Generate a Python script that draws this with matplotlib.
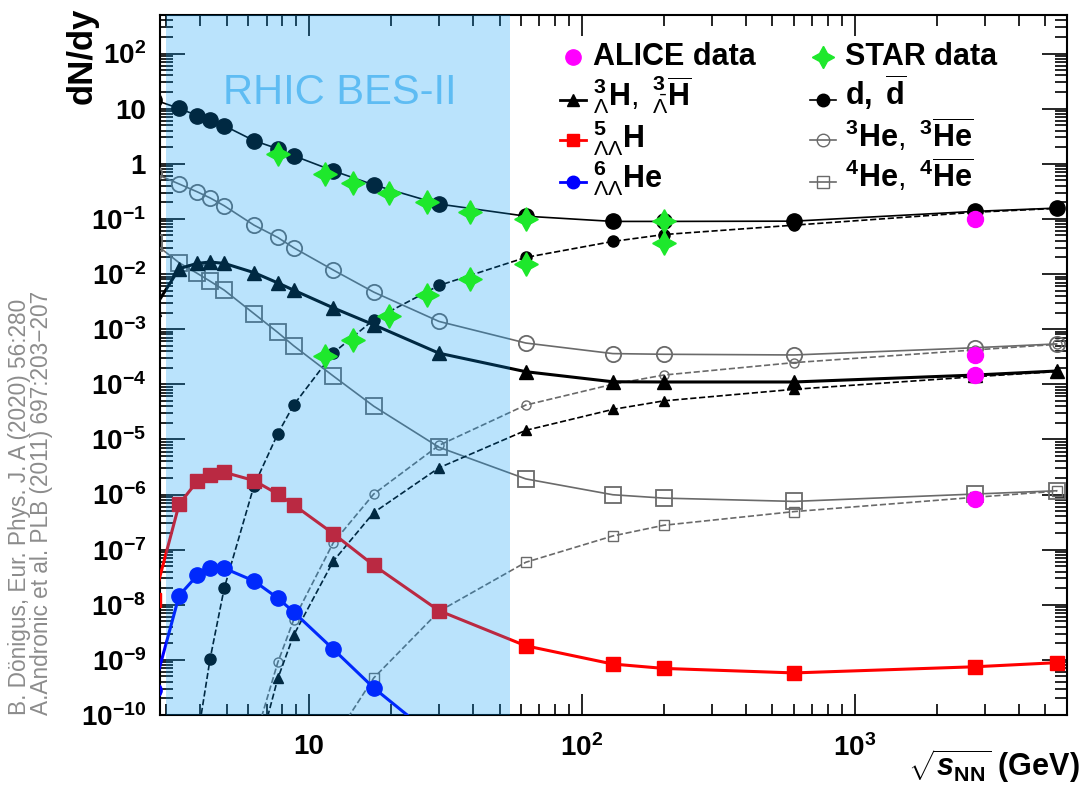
import numpy as np
import matplotlib
matplotlib.use("Agg")
import matplotlib.pyplot as plt
from matplotlib.lines import Line2D
from matplotlib.ticker import FixedLocator, LogLocator, NullFormatter

plt.rcParams["font.family"] = ["Liberation Sans", "DejaVu Sans"]
plt.rcParams["mathtext.fontset"] = "custom"
plt.rcParams["mathtext.rm"] = "Liberation Sans"
plt.rcParams["mathtext.bf"] = "Liberation Sans:bold"
plt.rcParams["mathtext.it"] = "Liberation Sans:italic"
plt.rcParams["mathtext.bfit"] = "Liberation Sans:bold:italic"

nan = np.nan

# thermal model energies (GeV); first one sits just left of the frame
sqrt_s = [2.7, 3.35, 3.9, 4.35, 4.9, 6.3, 7.7, 8.8, 12.3, 17.3, 30.0,
          62.4, 130, 200, 600, 2760, 5500]

d = [14.6, 10.1, 7.5, 6.1, 4.9, 2.63, 1.87, 1.40, 0.745, 0.414, 0.186,
     0.112, 0.090, 0.090, 0.091, 0.137, 0.157]
dbar = [nan, nan, 3.5e-11, 1.05e-9, 2.0e-8, 1.45e-6, 1.27e-5, 4.2e-5, 3.7e-4,
        1.48e-3, 6.2e-3, 0.020, 0.039, 0.052, 0.077, 0.132, 0.155]
he3 = [0.68, 0.43, 0.31, 0.24, 0.173, 0.077, 0.046, 0.030, 0.0118, 4.7e-3,
       1.38e-3, 5.6e-4, 3.6e-4, 3.5e-4, 3.4e-4, 4.6e-4, 5.4e-4]
he3bar = [nan, nan, nan, nan, nan, 3.2e-11, 9.0e-10, 5.3e-9, 1.34e-7, 1.02e-6,
          7.8e-6, 4.2e-5, 1.0e-4, 1.47e-4, 2.47e-4, 4.2e-4, 5.3e-4]
he4 = [0.037, 0.016, 0.0103, 7.4e-3, 5.1e-3, 1.91e-3, 8.7e-4, 5.0e-4, 1.41e-4,
       4.0e-5, 7.2e-6, 1.92e-6, 9.9e-7, 8.6e-7, 7.5e-7, 1.02e-6, 1.17e-6]
he4bar = [nan, nan, nan, nan, nan, nan, nan, nan, 3.5e-11, 4.7e-10, 7.6e-9,
          5.9e-8, 1.77e-7, 2.77e-7, 4.9e-7, 8.9e-7, 1.15e-6]
h3l = [2.3e-3, 0.0125, 0.0156, 0.0165, 0.0156, 0.0106, 6.9e-3, 5.1e-3, 2.43e-3,
       1.2e-3, 3.66e-4, 1.69e-4, 1.11e-4, 1.1e-4, 1.1e-4, 1.47e-4, 1.74e-4]
h3lbar = [nan, nan, nan, nan, nan, 1.1e-11, 4.6e-10, 2.8e-9, 6.2e-8, 4.7e-7,
          3.05e-6, 1.46e-5, 3.5e-5, 5.0e-5, 8.1e-5, 1.37e-4, 1.7e-4]
h5ll = [1.2e-8, 6.7e-7, 1.73e-6, 2.3e-6, 2.53e-6, 1.79e-6, 1.02e-6, 6.5e-7,
        1.95e-7, 5.2e-8, 7.8e-9, 1.8e-9, 8.4e-10, 7.0e-10, 5.8e-10, 7.5e-10, 8.9e-10]
he6ll = [2.9e-10, 1.47e-8, 3.4e-8, 4.6e-8, 4.6e-8, 2.7e-8, 1.32e-8, 7.4e-9,
         1.56e-9, 3.1e-10, 3.4e-11, nan, nan, nan, nan, nan, nan]

star_d_s = [7.7, 11.5, 14.5, 19.6, 27, 39, 62.4, 200]
star_d = [1.52, 0.64, 0.445, 0.29, 0.20, 0.131, 0.099, 0.091]
star_dbar_s = [11.5, 14.5, 19.6, 27, 39, 62.4, 200]
star_dbar = [3.2e-4, 6.4e-4, 1.76e-3, 4.1e-3, 8.2e-3, 0.015, 0.036]

alice_s = [2760, 2760, 2760, 2760]
alice_y = [0.099, 3.4e-4, 1.5e-4, 8.3e-7]

bes2_range = (3.0, 54.4)
y_exponents = list(range(-10, 3))
x_major = [10, 100, 1000]
x_labels = ["10", r"$\mathbf{10^{2}}$", r"$\mathbf{10^{3}}$"]


def ylab(e):
    if e == 0:
        return "1"
    if e == 1:
        return "10"
    return r"$\mathbf{10^{%d}}$" % e


W, H = 1085, 789
fig = plt.figure(figsize=(W / 100, H / 100), dpi=100)
ax = fig.add_axes([160 / W, 1 - 715 / H, 907 / W, 700 / H])
ax.set_xscale("log")
ax.set_yscale("log")
ax.set_xlim(2.85, 6000)
ax.set_ylim(1e-10, 500)

gray = "#6a6a6a"
green = "#1ee82c"
star = (4, 1, 0)

styles = {
    "d": dict(fmt="-o", color="black", lw=1.2, ms=11),
    "dbar": dict(fmt="--o", color="black", lw=1.2, ms=8),
    "he3": dict(fmt="-o", color=gray, lw=1.2, ms=11, mfc="none", mew=1.3),
    "he3bar": dict(fmt="--o", color=gray, lw=1.2, ms=6.5, mfc="none", mew=1.0),
    "he4": dict(fmt="-s", color=gray, lw=1.2, ms=11, mfc="none", mew=1.3),
    "he4bar": dict(fmt="--s", color=gray, lw=1.2, ms=6.5, mfc="none", mew=1.0),
    "h3l": dict(fmt="-^", color="black", lw=2.2, ms=10),
    "h3lbar": dict(fmt="--^", color="black", lw=1.2, ms=7),
    "h5ll": dict(fmt="-s", color="#ff0000", lw=2.2, ms=10),
    "he6ll": dict(fmt="-o", color="#0000ff", lw=2.2, ms=11),
}
series = {"d": d, "dbar": dbar, "he3": he3, "he3bar": he3bar, "he4": he4,
          "he4bar": he4bar, "h3l": h3l, "h3lbar": h3lbar, "h5ll": h5ll,
          "he6ll": he6ll}

# model curves
for key, vals in series.items():
    st = dict(styles[key])
    fmt = st.pop("fmt")
    ax.plot(sqrt_s, vals, fmt, zorder=3, **st)

# BES-II band laid over the curves
ax.axvspan(*bes2_range, facecolor=(0.0, 0.6, 0.97), alpha=0.27, lw=0, zorder=4)
ax.text(13.0, 19.5, "RHIC BES-II", color="#5ebcf3", fontsize=30,
        ha="center", va="center", zorder=6)

# measurements
ax.plot(star_d_s, star_d, ls="none", marker=star, color=green, ms=17, zorder=6)
ax.plot(star_dbar_s, star_dbar, ls="none", marker=star, color=green, ms=17, zorder=6)
ax.plot(alice_s, alice_y, ls="none", marker="o", color="#ff00ff", ms=11.5, zorder=6)

# ROOT-like ticks on all four sides
ax.yaxis.set_major_locator(FixedLocator([10.0 ** e for e in y_exponents]))
ax.set_yticklabels([ylab(e) for e in y_exponents], fontsize=20, fontweight="bold")
ax.yaxis.set_minor_locator(LogLocator(base=10, subs=np.arange(2, 10), numticks=100))
ax.yaxis.set_minor_formatter(NullFormatter())
ax.xaxis.set_major_locator(FixedLocator(x_major))
ax.set_xticklabels(x_labels, fontsize=20, fontweight="bold")
ax.xaxis.set_minor_locator(LogLocator(base=10, subs=np.arange(2, 10), numticks=100))
ax.xaxis.set_minor_formatter(NullFormatter())
ax.tick_params(which="both", direction="in", top=True, right=True, width=1.2)
ax.tick_params(axis="y", which="major", length=18, pad=10)
ax.tick_params(axis="y", which="minor", length=9)
ax.tick_params(axis="x", which="major", length=15, pad=14)
ax.tick_params(axis="x", which="minor", length=8)
for sp in ax.spines.values():
    sp.set_linewidth(1.5)

fig.text(82 / W, 1 - 8 / H, "dN/dy", rotation=90, ha="center", va="top",
         fontsize=25, fontweight="bold")
fig.text(1080 / W, 1 - 785 / H, r"$\sqrt{\mathbfit{s}_{\mathbf{NN}}}$ (GeV)",
         ha="right", va="bottom", fontsize=22, fontweight="bold")
fig.text(20 / W, 1 - 715 / H, "B. Dönigus, Eur. Phys. J. A (2020) 56:280",
         rotation=90, ha="center", va="bottom", fontsize=16.3, color="#8c8c8c")
fig.text(42 / W, 1 - 715 / H, "A.Andronic et al. PLB (2011) 697:203\u2212207",
         rotation=90, ha="center", va="bottom", fontsize=16.3, color="#8c8c8c")

# legend, two columns placed by hand (pixel rows from the top)
legend_rows = [
    # (column, key style, label, marker row y, text baseline y)
    (0, dict(ls="none", marker="o", color="#ff00ff", ms=11), "ALICE data", 57, 65),
    (0, dict(color="black", lw=2, marker="^", ms=9),
     r"${}^{\mathbf{3}}_{\Lambda}\mathbf{H},\ {}^{\mathbf{3}}_{\bar{\Lambda}}\overline{\mathbf{H}}$", 100, 106),
    (0, dict(color="#ff0000", lw=2, marker="s", ms=9),
     r"${}^{\mathbf{5}}_{\Lambda\Lambda}\mathbf{H}$", 140, 147),
    (0, dict(color="#0000ff", lw=2, marker="o", ms=9),
     r"${}^{\mathbf{6}}_{\Lambda\Lambda}\mathbf{He}$", 182, 188),
    (1, dict(ls="none", marker=star, color=green, ms=16), "STAR data", 57, 65),
    (1, dict(color="black", lw=1.2, marker="o", ms=9),
     r"$\mathbf{d,\ \overline{d}}$", 100, 105),
    (1, dict(color=gray, lw=1.2, marker="o", mfc="none", ms=9),
     r"${}^{\mathbf{3}}\mathbf{He},\ {}^{\mathbf{3}}\overline{\mathbf{He}}$", 140, 147),
    (1, dict(color=gray, lw=1.2, marker="s", mfc="none", ms=9),
     r"${}^{\mathbf{4}}\mathbf{He},\ {}^{\mathbf{4}}\overline{\mathbf{He}}$", 182, 187),
]
col_key_x = [573, 823]
col_text_x = [593, 845]
for col, kst, label, ky, ty in legend_rows:
    cx = col_key_x[col]
    key = Line2D([(cx - 13) / W, cx / W, (cx + 13) / W], [1 - ky / H] * 3,
                 transform=fig.transFigure, markevery=[1], **kst)
    fig.add_artist(key)
    fig.text(col_text_x[col] / W, 1 - ty / H, label, ha="left", va="baseline",
             fontsize=22, fontweight="bold")

fig.savefig("out.png", dpi=100)
